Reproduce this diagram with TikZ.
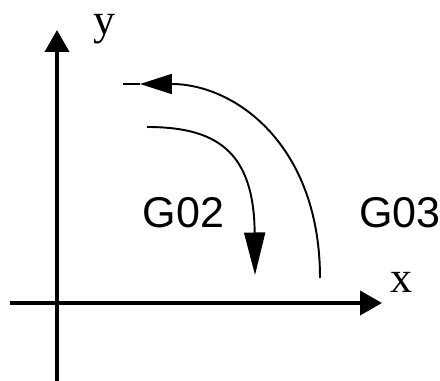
\documentclass[tikz,border=0pt]{standalone}
\usepackage{fontspec}
\setmainfont{Liberation Serif}
\newfontfamily\gfont{Liberation Sans}
\usetikzlibrary{arrows.meta}
\tikzset{
  axis/.style={-{Triangle[length=0.44cm, width=0.48cm]}, line width=2.2pt},
  arc/.style={line width=1.1pt},
  axlab/.style={font=\fontsize{25}{27}\selectfont, inner sep=0pt},
  glab/.style={font=\gfont\fontsize{24.5}{26}\selectfont, inner sep=0pt},
}
\begin{document}
\begin{tikzpicture}[x=0.02cm, y=-0.02cm]
  \useasboundingbox (0,0) rectangle (440,381);
  % axes
  \coordinate (ybot) at (57,381);
  \coordinate (ytop) at (57,30);
  \coordinate (xleft) at (10,303);
  \coordinate (xright) at (382,303);
  \draw[axis] (ybot) -- (ytop);
  \draw[axis] (xleft) -- (xright);
  \node[axlab, anchor=base] (ylab) at (104,35) {y};
  \node[axlab, anchor=base] (xlab) at (401,293) {x};

  % G03: counterclockwise arc
  \coordinate (g03start) at (320,278);
  \coordinate (g03tip) at (140,84);
  \coordinate (g03end) at (123,84);
  \draw[arc, -{Triangle[length=0.64cm, width=0.4cm]}] (g03start)
    .. controls (320,145) and (235,84) .. (g03tip);
  \draw[arc] (g03tip) -- (g03end);

  % G02: clockwise arc
  \coordinate (g02start) at (147,127);
  \coordinate (g02end) at (255,275);
  \draw[arc, -{Triangle[length=0.85cm, width=0.42cm]}] (g02start)
    .. controls (215,127) and (254,150) .. (g02end);

  \node[glab, anchor=base] (g02) at (183.5,228) {G02};
  \node[glab, anchor=base] (g03) at (400,228) {G03};
\end{tikzpicture}
\end{document}
